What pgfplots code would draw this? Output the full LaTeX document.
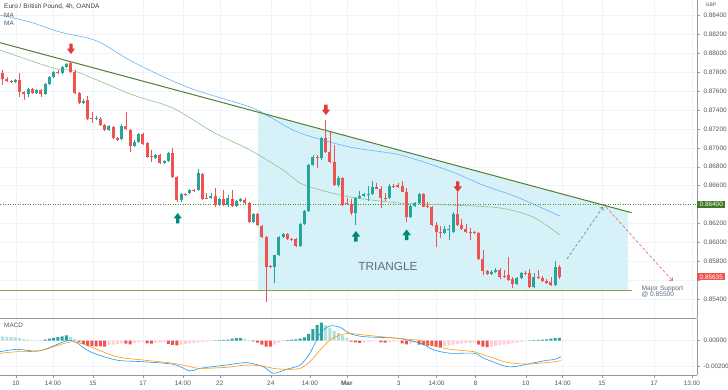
\documentclass[border=0pt]{standalone}
\usepackage{fontspec}
\setmainfont{Liberation Sans}
\usepackage{pgfplots}
\usepackage{pgfplotstable}
\pgfplotsset{compat=1.18}
\usetikzlibrary{arrows.meta}
\definecolor{cup}{RGB}{38,166,154}
\definecolor{cdn}{RGB}{239,83,80}
\definecolor{hlt}{RGB}{178,223,219}
\definecolor{hpk}{RGB}{255,205,210}
\definecolor{gridc}{RGB}{240,243,250}
\definecolor{axc}{RGB}{150,152,160}
\definecolor{txt}{RGB}{85,85,85}
\definecolor{maB}{RGB}{100,181,246}
\definecolor{maG}{RGB}{140,195,140}
\definecolor{trend}{RGB}{85,125,50}
\definecolor{supp}{RGB}{130,165,70}
\definecolor{dotg}{RGB}{80,140,50}
\definecolor{tri}{RGB}{215,241,249}
\definecolor{macdB}{RGB}{33,150,243}
\definecolor{sigO}{RGB}{255,152,0}
\definecolor{annot}{RGB}{93,109,126}
\definecolor{projg}{RGB}{90,160,130}
\definecolor{projr}{RGB}{229,115,115}
\definecolor{arrR}{RGB}{229,57,53}
\definecolor{arrG}{RGB}{0,137,123}
\definecolor{boxg}{RGB}{62,120,40}
\pgfdeclareplotmark{arrdown}{%
 \pgfpathmoveto{\pgfqpoint{-1.7pt}{5.5pt}}%
 \pgfpathlineto{\pgfqpoint{1.7pt}{5.5pt}}%
 \pgfpathlineto{\pgfqpoint{1.7pt}{0.5pt}}%
 \pgfpathlineto{\pgfqpoint{4.2pt}{0.5pt}}%
 \pgfpathlineto{\pgfqpoint{0pt}{-5pt}}%
 \pgfpathlineto{\pgfqpoint{-4.2pt}{0.5pt}}%
 \pgfpathlineto{\pgfqpoint{-1.7pt}{0.5pt}}%
 \pgfpathclose\pgfusepathqfill}
\pgfdeclareplotmark{arrup}{%
 \pgfpathmoveto{\pgfqpoint{-1.7pt}{-5.5pt}}%
 \pgfpathlineto{\pgfqpoint{1.7pt}{-5.5pt}}%
 \pgfpathlineto{\pgfqpoint{1.7pt}{-0.5pt}}%
 \pgfpathlineto{\pgfqpoint{4.2pt}{-0.5pt}}%
 \pgfpathlineto{\pgfqpoint{0pt}{5pt}}%
 \pgfpathlineto{\pgfqpoint{-4.2pt}{-0.5pt}}%
 \pgfpathlineto{\pgfqpoint{-1.7pt}{-0.5pt}}%
 \pgfpathclose\pgfusepathqfill}
\begin{document}
\pgfplotstableread{
i O H L C
4 0.87698 0.87729 0.87687 0.87719
7 0.87571 0.87634 0.87539 0.87624
9 0.87581 0.87624 0.87571 0.87613
11 0.87571 0.87687 0.87560 0.87677
12 0.87677 0.87761 0.87666 0.87751
13 0.87751 0.87810 0.87740 0.87804
15 0.87793 0.87867 0.87782 0.87857
16 0.87857 0.87899 0.87846 0.87888
20 0.87475 0.87518 0.87465 0.87497
23 0.87306 0.87338 0.87295 0.87317
26 0.87189 0.87242 0.87179 0.87232
29 0.87094 0.87253 0.87084 0.87232
32 0.87020 0.87084 0.87009 0.87062
33 0.87062 0.87158 0.87052 0.87147
37 0.86893 0.86935 0.86882 0.86925
39 0.86840 0.86872 0.86829 0.86861
40 0.86861 0.86956 0.86851 0.86946
43 0.86448 0.86522 0.86427 0.86512
45 0.86522 0.86565 0.86512 0.86554
47 0.86554 0.86776 0.86544 0.86734
50 0.86469 0.86522 0.86459 0.86491
52 0.86395 0.86469 0.86385 0.86459
54 0.86395 0.86501 0.86374 0.86469
56 0.86385 0.86448 0.86374 0.86438
57 0.86438 0.86465 0.86427 0.86459
60 0.86215 0.86311 0.86205 0.86300
65 0.85739 0.85870 0.85569 0.85866
66 0.85866 0.86067 0.85855 0.86056
67 0.86056 0.86099 0.86046 0.86088
71 0.85961 0.86205 0.85951 0.86194
72 0.86194 0.86342 0.86184 0.86332
73 0.86332 0.86829 0.86321 0.86819
74 0.86819 0.86925 0.86808 0.86904
76 0.86893 0.87115 0.86872 0.87105
80 0.86607 0.86702 0.86586 0.86681
84 0.86311 0.86475 0.86184 0.86469
85 0.86469 0.86544 0.86459 0.86491
86 0.86491 0.86522 0.86480 0.86512
87 0.86501 0.86596 0.86438 0.86512
88 0.86512 0.86649 0.86501 0.86586
92 0.86469 0.86618 0.86459 0.86596
97 0.86268 0.86395 0.86258 0.86385
98 0.86385 0.86422 0.86374 0.86416
99 0.86416 0.86518 0.86406 0.86512
105 0.86099 0.86173 0.86088 0.86141
106 0.86131 0.86184 0.86025 0.86141
107 0.86109 0.86321 0.86099 0.86300
116 0.85665 0.85707 0.85654 0.85686
117 0.85686 0.85728 0.85675 0.85707
122 0.85559 0.85633 0.85548 0.85622
123 0.85622 0.85686 0.85612 0.85675
126 0.85527 0.85675 0.85516 0.85633
131 0.85548 0.85802 0.85538 0.85739
}\gT
\pgfplotstableread{
i O H L C
0 0.87867 0.87910 0.87782 0.87793
1 0.87793 0.87825 0.87666 0.87729
2 0.87729 0.87751 0.87698 0.87708
3 0.87708 0.87719 0.87687 0.87698
5 0.87719 0.87793 0.87539 0.87592
6 0.87592 0.87602 0.87507 0.87571
8 0.87624 0.87634 0.87571 0.87581
10 0.87613 0.87624 0.87539 0.87571
14 0.87804 0.87825 0.87782 0.87793
17 0.87899 0.87920 0.87793 0.87804
18 0.87804 0.87825 0.87571 0.87581
19 0.87581 0.87592 0.87465 0.87475
21 0.87507 0.87549 0.87295 0.87306
22 0.87317 0.87380 0.87264 0.87306
24 0.87306 0.87327 0.87232 0.87242
25 0.87242 0.87253 0.87179 0.87189
27 0.87221 0.87232 0.87094 0.87105
28 0.87105 0.87115 0.87073 0.87084
30 0.87232 0.87380 0.87189 0.87200
31 0.87189 0.87200 0.86956 0.87020
34 0.87147 0.87158 0.87031 0.87041
35 0.87052 0.87062 0.86893 0.86904
36 0.86914 0.86978 0.86851 0.86904
38 0.86925 0.86935 0.86829 0.86840
41 0.86946 0.86999 0.86686 0.86692
42 0.86692 0.86702 0.86427 0.86448
44 0.86512 0.86522 0.86491 0.86502
46 0.86554 0.86565 0.86533 0.86544
48 0.86724 0.86734 0.86448 0.86459
49 0.86469 0.86522 0.86459 0.86460
51 0.86491 0.86575 0.86374 0.86395
53 0.86459 0.86554 0.86385 0.86395
55 0.86459 0.86554 0.86374 0.86385
58 0.86448 0.86469 0.86406 0.86416
59 0.86416 0.86427 0.86210 0.86215
61 0.86300 0.86311 0.86173 0.86184
62 0.86173 0.86184 0.86050 0.86056
63 0.86056 0.86067 0.85368 0.85739
64 0.85749 0.85760 0.85728 0.85739
68 0.86088 0.86099 0.86025 0.86035
69 0.86035 0.86046 0.86014 0.86025
70 0.86035 0.86046 0.85955 0.85961
75 0.86904 0.86925 0.86787 0.86893
77 0.87105 0.87295 0.86946 0.86956
78 0.86956 0.87179 0.86840 0.86851
79 0.86851 0.87031 0.86596 0.86607
81 0.86681 0.86692 0.86385 0.86395
82 0.86416 0.86469 0.86395 0.86406
83 0.86406 0.86459 0.86289 0.86311
89 0.86586 0.86628 0.86560 0.86565
90 0.86565 0.86596 0.86364 0.86469
91 0.86469 0.86522 0.86438 0.86459
93 0.86596 0.86618 0.86575 0.86586
94 0.86607 0.86628 0.86580 0.86586
95 0.86596 0.86649 0.86528 0.86533
96 0.86533 0.86575 0.86215 0.86268
100 0.86512 0.86522 0.86370 0.86374
101 0.86385 0.86427 0.86364 0.86374
102 0.86374 0.86385 0.86173 0.86184
103 0.86184 0.86215 0.85951 0.86109
104 0.86109 0.86173 0.86046 0.86099
108 0.86300 0.86533 0.86173 0.86184
109 0.86184 0.86247 0.86131 0.86141
110 0.86141 0.86194 0.86104 0.86109
111 0.86109 0.86152 0.86025 0.86099
112 0.86109 0.86120 0.86088 0.86099
113 0.86099 0.86109 0.85813 0.85823
114 0.85823 0.85919 0.85654 0.85696
115 0.85696 0.85707 0.85654 0.85665
118 0.85707 0.85728 0.85612 0.85633
119 0.85643 0.85707 0.85622 0.85633
120 0.85654 0.85845 0.85591 0.85601
121 0.85612 0.85633 0.85516 0.85559
124 0.85675 0.85696 0.85654 0.85665
125 0.85675 0.85718 0.85516 0.85527
127 0.85633 0.85707 0.85612 0.85622
128 0.85622 0.85643 0.85580 0.85591
129 0.85591 0.85612 0.85559 0.85569
130 0.85580 0.85633 0.85538 0.85548
132 0.85739 0.85760 0.85612 0.85635
}\rT
\begin{tikzpicture}[x=1pt,y=1pt]
\useasboundingbox (0,0) rectangle (728,390);
\pgfplotsset{
 common/.style={
  scale only axis, width=697pt, xmin=0.38, xmax=164.4,
  axis x line*=bottom, axis y line*=right,
  axis line style={draw=axc, line width=0.5pt},
  grid=major, major grid style={draw=gridc, line width=0.5pt},
  xtick={4.14,12.85,22.26,34.0,43.4,52.1,64.1,73.3,82.0,94.2,103.1,112.3,124.1,132.8,142.0,154.3,163.2},
  tick align=outside, major tick length=3pt,
  tick style={draw=axc, line width=0.5pt},
  tick label style={font=\fontsize{6.4}{7}\selectfont, text=txt},
  /pgf/number format/assume math mode=true,
  scaled y ticks=false,
  yticklabel style={/pgf/number format/.cd, fixed, fixed zerofill, precision=5},
  clip=false,
 },
 candle/.style={only marks, mark=*, mark size=0pt, mark options={draw=none, fill=none}},
}
\begin{axis}[common, at={(0pt,72pt)}, anchor=south west, height=318pt,
 ymin=0.85199, ymax=0.88566,
 ytick={0.854,0.858,0.860,0.862,0.866,0.868,0.870,0.872,0.874,0.876,0.878,0.880,0.882,0.884},
 extra y ticks={0.856,0.864}, extra y tick labels={},
 extra y tick style={grid=major},
 xticklabels={}, xtick style={draw=none}]
% triangle zone
\addplot[fill=tri, draw=none] coordinates {(61.15,0.85488)(61.15,0.87378)(148.2,0.86323)(148.2,0.85488)} -- cycle;
% 0.864 level
\addplot[dotg, line width=0.8pt, dash pattern=on 1pt off 1.5pt] coordinates {(0.38,0.864)(164.4,0.864)};
% moving averages
\addplot[maB, line width=0.6pt, smooth] coordinates {(0.38,0.88407)(7.44,0.88333)(14.49,0.88227)(23.2,0.88132)(31.67,0.87910)(44.38,0.87645)(59.2,0.87433)(63.9,0.87327)(70.96,0.87158)(82.73,0.87009)(94.5,0.86925)(106.26,0.86755)(114.0,0.86607)(122.0,0.86480)(132.1,0.86279)};
\addplot[maG, line width=0.6pt, smooth] coordinates {(0.38,0.88037)(12.85,0.87846)(18.5,0.87804)(31.67,0.87560)(41.08,0.87422)(50.5,0.87168)(59.2,0.86978)(66.96,0.86766)(70.96,0.86628)(74.96,0.86565)(82.73,0.86480)(94.5,0.86416)(106.26,0.86395)(118.0,0.86364)(125.8,0.86268)(132.1,0.86078)};
% trend and support
\addplot[trend, line width=1pt] coordinates {(0.38,0.88114)(149.0,0.86314)};
\addplot[supp, line width=1pt] coordinates {(0.38,0.85488)(149.0,0.85488)};
% candles
\addplot[candle, error bars/.cd, y dir=plus, y explicit, error mark=none, error bar style={draw=cup, line width=0.6pt}] table[x=i, y=L, y error expr=\thisrow{H}-\thisrow{L}] {\gT};
\addplot[candle, error bars/.cd, y dir=plus, y explicit, error mark=none, error bar style={draw=cup, line width=3pt}] table[x=i, y=O, y error expr=\thisrow{C}-\thisrow{O}] {\gT};
\addplot[candle, error bars/.cd, y dir=plus, y explicit, error mark=none, error bar style={draw=cdn, line width=0.6pt}] table[x=i, y=L, y error expr=\thisrow{H}-\thisrow{L}] {\rT};
\addplot[candle, error bars/.cd, y dir=plus, y explicit, error mark=none, error bar style={draw=cdn, line width=3pt}] table[x=i, y=C, y error expr=\thisrow{O}-\thisrow{C}] {\rT};
% signal arrows
\addplot[only marks, mark=arrdown, color=arrR] coordinates {(17.08,0.88047)(77.08,0.87401)(108.1,0.86586)};
\addplot[only marks, mark=arrup, color=arrG] coordinates {(42.2,0.86258)(84.14,0.86067)(96.07,0.86083)};
% projections
\addplot[projg, line width=0.7pt, dash pattern=on 3pt off 2pt, -{To[length=3pt,width=5pt]}] coordinates {(133.8,0.85824)(142.3,0.86374)};
\addplot[projr, line width=0.7pt, dash pattern=on 3pt off 2pt, -{To[length=3pt,width=5pt]}] coordinates {(142.97,0.86374)(158.7,0.85591)};
% price boxes
\node[anchor=west, fill=boxg, text=white, inner xsep=2.5pt, inner ysep=1.4pt, font=\fontsize{6.4}{7}\selectfont] at (axis cs:164.4,0.864) {0.86400};
\node[anchor=west, fill=cdn, text=white, inner xsep=2.5pt, inner ysep=1.4pt, font=\fontsize{6.4}{7}\selectfont] at (axis cs:164.4,0.85635) {0.85635};
\end{axis}
\begin{axis}[common, at={(0pt,15pt)}, anchor=south west, height=56pt,
 ymin=-0.00264, ymax=0.00167, ytick={-0.002,0},
 xticklabels={10,14:00,15,17,14:00,22,24,14:00,\textbf{Mar},3,14:00,8,10,14:00,15,17,13:00}]
\addplot[ybar, bar width=3pt, bar shift=0pt, fill=hlt, draw=none] coordinates {(0,0.00035)(1,0.00033)(2,0.0003)(3,0.00028)(4,0.00025)(5,0.0002)(6,0.00012)(7,0.00008)(8,0.00005)(9,0.00003)(10,0.00002)(17,0.0003)(18,0.00015)(58,0.00012)(59,0.00005)(77,0.0012)(78,0.001)(79,0.00075)(80,0.0006)(81,0.0004)(82,0.0002)};
\addplot[ybar, bar width=3pt, bar shift=0pt, fill=cup, draw=none] coordinates {(11,0.00008)(12,0.00015)(13,0.00022)(14,0.00028)(15,0.00033)(16,0.0004)(51,0.00003)(52,0.00005)(53,0.00006)(54,0.00008)(55,0.00015)(56,0.0002)(57,0.0002)(68,0.00005)(69,0.00008)(70,0.0001)(71,0.00015)(72,0.00025)(73,0.0005)(74,0.0009)(75,0.0012)(76,0.0014)(125,0.00003)(126,0.00005)(127,0.00006)(128,0.00008)(129,0.0001)(130,0.00015)(131,0.0002)(132,0.00022)};
\addplot[ybar, bar width=3pt, bar shift=0pt, fill=cdn, draw=none] coordinates {(19,-0.0001)(20,-0.00025)(21,-0.0004)(22,-0.00042)(23,-0.00043)(24,-0.00044)(25,-0.00045)(30,-0.00022)(31,-0.00028)(35,-0.0002)(36,-0.00022)(40,-0.00025)(41,-0.00032)(42,-0.00036)(60,-0.00005)(61,-0.00015)(62,-0.0003)(63,-0.00045)(64,-0.00046)(83,-0.00008)(84,-0.00012)(85,-0.00016)(90,-0.00012)(91,-0.00015)(95,-0.0002)(96,-0.00028)(99,-0.0003)(100,-0.00035)(101,-0.00038)(102,-0.0004)(103,-0.00045)(104,-0.00048)(113,-0.0003)(114,-0.00045)(115,-0.0005)};
\addplot[ybar, bar width=3pt, bar shift=0pt, fill=hpk, draw=none] coordinates {(26,-0.00035)(27,-0.0003)(28,-0.00025)(29,-0.0002)(32,-0.00018)(33,-0.00012)(34,-0.0001)(37,-0.00015)(38,-0.00012)(39,-0.0001)(43,-0.0003)(44,-0.00025)(45,-0.0002)(46,-0.00016)(47,-0.00012)(48,-0.0001)(49,-0.00005)(50,-0.00002)(65,-0.0003)(66,-0.00015)(67,-0.00005)(86,-0.00012)(87,-0.00008)(88,-0.00005)(89,-0.00003)(92,-0.0001)(93,-0.00008)(94,-0.00005)(97,-0.00022)(98,-0.00015)(105,-0.00042)(106,-0.00036)(107,-0.0003)(108,-0.00026)(109,-0.00022)(110,-0.00019)(111,-0.00016)(112,-0.00014)(116,-0.00045)(117,-0.0004)(118,-0.00035)(119,-0.0003)(120,-0.00025)(121,-0.0002)(122,-0.00015)(123,-0.0001)(124,-0.00004)};
\addplot[macdB, line width=0.6pt, smooth, tension=0.5] coordinates {(0.38,-0.00085)(4.3,-0.00067)(9.8,-0.00077)(16.1,0.0)(18.4,-0.00015)(21.6,-0.00085)(27.8,-0.00149)(34.1,-0.00162)(41.2,-0.00182)(45.1,-0.00233)(47.4,-0.00213)(53.7,-0.00187)(58.4,-0.00169)(62.3,-0.002)(64.7,-0.00251)(67.8,-0.0022)(71.0,-0.00187)(73.3,-0.00097)(75.7,0.00056)(78.0,0.00113)(80.4,0.00103)(82.7,0.00056)(86.0,0.00031)(94.0,0.00018)(99.4,-0.00021)(102.6,-0.00072)(106.5,-0.00097)(112.0,-0.00097)(114.3,-0.00136)(119.1,-0.00195)(121.4,-0.002)(124.5,-0.0018)(128.5,-0.00154)(130.8,-0.00144)(132.4,-0.00123)};
\addplot[sigO, line width=0.6pt, smooth, tension=0.5] coordinates {(0.38,-0.00097)(4.3,-0.00085)(9.8,-0.00077)(16.1,-0.00015)(18.4,-0.00012)(21.6,-0.00046)(27.8,-0.00123)(34.1,-0.00149)(41.2,-0.00174)(45.1,-0.002)(47.4,-0.00213)(53.7,-0.00205)(58.4,-0.00187)(62.3,-0.00195)(64.7,-0.00213)(67.8,-0.0022)(71.0,-0.00213)(73.3,-0.00162)(75.7,-0.00072)(78.0,0.00005)(80.4,0.00044)(82.7,0.00056)(86.0,0.00044)(94.0,0.00018)(99.4,0.0)(102.6,-0.00041)(106.5,-0.00067)(112.0,-0.00085)(114.3,-0.0011)(119.1,-0.00162)(121.4,-0.00174)(124.5,-0.0018)(128.5,-0.0017)(130.8,-0.00162)(132.4,-0.00154)};
\end{axis}
% texts
\node[anchor=west, inner sep=0, text={rgb,255:red,60;green,60;blue,60}, font=\fontsize{6.5}{7}\selectfont] at (4,383) {Euro / British Pound, 4h, OANDA};
\node[anchor=west, inner sep=0, text=txt, font=\fontsize{6.4}{7}\selectfont] at (4,375) {MA};
\node[anchor=west, inner sep=0, text=txt, font=\fontsize{6.4}{7}\selectfont] at (4,367) {MA};
\node[anchor=west, inner sep=0, text=txt, font=\fontsize{6.4}{7}\selectfont] at (4,64.3) {MACD};
\node[inner sep=0, text=txt, font=\fontsize{5}{6}\selectfont] at (711,385) {GBP};
\node[inner sep=0, text=annot, font=\fontsize{11.8}{13}\selectfont] at (388,123.3) {TRIANGLE};
\node[anchor=north west, align=left, inner sep=0, text=annot, font=\fontsize{6.6}{6.4}\selectfont] at (641.5,104.5) {Major Support\\@ 0.85500};
\end{tikzpicture}
\end{document}
